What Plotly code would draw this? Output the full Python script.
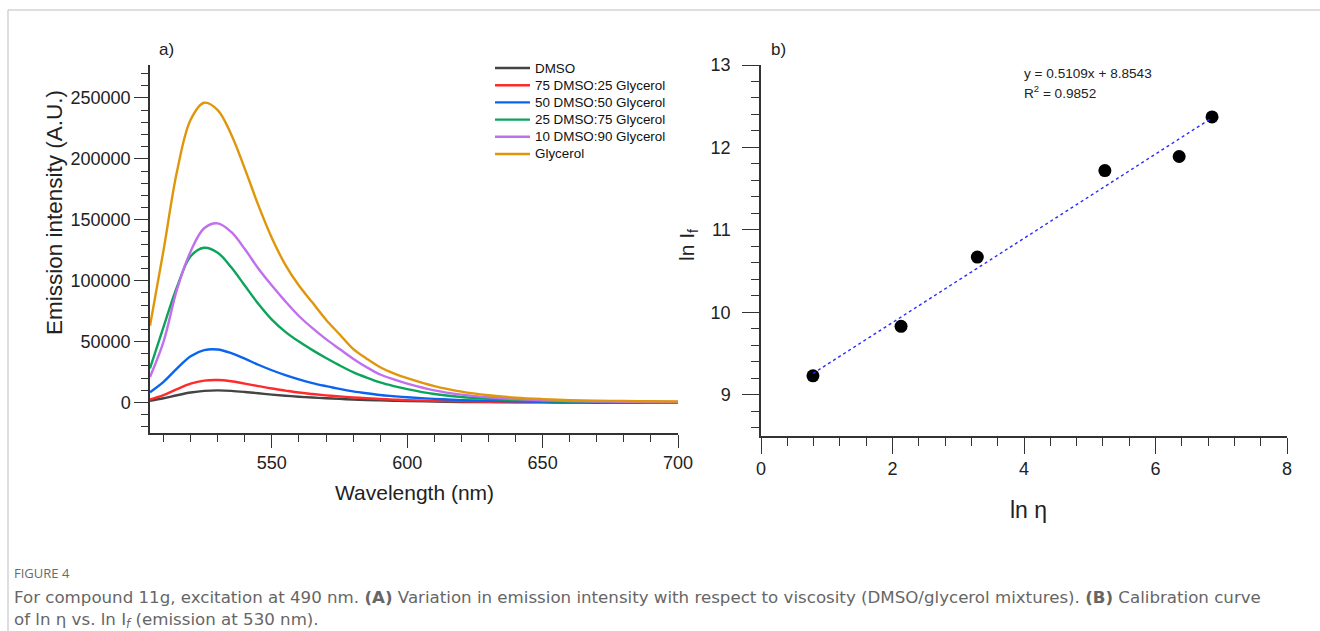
import plotly.graph_objects as go

W, H = 1320, 631

# ---------------- data: panel a ----------------
wavelength = [505, 510, 515, 520, 525, 530, 535, 540, 545, 550, 555, 560, 565, 570, 575,
              580, 585, 590, 595, 600, 610, 620, 630, 640, 650, 660, 670, 680, 690, 700]
dmso = [1500, 3500, 6000, 8200, 9600, 10000, 9600, 8700, 7600, 6500, 5600, 4800, 4100, 3500, 3000,
        2500, 2100, 1800, 1500, 1200, 800, 500, 300, 200, 100, 0, -200, -300, -300, -300]
dmso75 = [2500, 6000, 11000, 15500, 18000, 18500, 17500, 15500, 13500, 11500, 9800, 8200, 7000, 5900, 5000,
          4200, 3500, 2900, 2400, 2000, 1400, 1000, 700, 500, 300, 200, 100, 0, 0, -200]
dmso50 = [8500, 17000, 28000, 38000, 43000, 43500, 40500, 36000, 31000, 26500, 22500, 19000, 16000, 13500, 11200,
          9200, 7600, 6200, 5200, 4300, 3000, 2000, 1400, 1000, 700, 500, 300, 200, 100, 0]
dmso25 = [28000, 62000, 95000, 120000, 127000, 123000, 111000, 96000, 81000, 68000, 58000, 50000, 43000, 36500, 30500,
          25000, 20500, 16500, 13500, 11000, 7000, 4500, 3000, 2000, 1300, 900, 600, 400, 300, 200]
dmso10 = [21000, 50000, 93000, 124000, 143000, 147000, 140000, 126000, 110000, 96000, 83000, 71000, 61000, 52000, 44000,
          36000, 29000, 23000, 19000, 15500, 10000, 6500, 4300, 2800, 1900, 1300, 900, 700, 500, 400]
glycerol = [63000, 125000, 190000, 232000, 246000, 240000, 220000, 192000, 162000, 135000, 113000, 96000, 82000, 68000, 56000,
            44000, 36000, 29000, 24000, 20000, 13500, 9000, 6000, 4000, 2800, 2000, 1500, 1200, 1000, 900]

series_names = ["DMSO", "75 DMSO:25 Glycerol", "50 DMSO:50 Glycerol",
                "25 DMSO:75 Glycerol", "10 DMSO:90 Glycerol", "Glycerol"]
series_values = [dmso, dmso75, dmso50, dmso25, dmso10, glycerol]
series_colors = ["#444444", "#ff2b2b", "#0a64f0", "#0ca35a", "#c070ec", "#e0960a"]

# ---------------- data: panel b ----------------
ln_eta = [0.79, 2.13, 3.29, 5.23, 6.36, 6.86]
ln_if = [9.23, 9.83, 10.67, 11.72, 11.89, 12.37]
SLOPE = 0.5109
INTERCEPT = 8.8543

# ---------------- layout helpers (pixel -> paper) ----------------
def px(x):
    return x / W

def py(y):
    return 1 - y / H

FONT = "Arial, Liberation Sans, sans-serif"
AX_COLOR = "#333333"

fig = go.Figure()

for name, vals, col in zip(series_names, series_values, series_colors):
    fig.add_trace(go.Scatter(x=wavelength, y=vals, name=name, mode="lines",
                             line=dict(color=col, width=2.4, shape="spline", smoothing=1.0),
                             xaxis="x", yaxis="y", showlegend=False))

fig.add_trace(go.Scatter(x=ln_eta, y=ln_if, mode="markers", name="ln If",
                         marker=dict(color="black", size=13),
                         xaxis="x2", yaxis="y2", showlegend=False))

fit_x = [min(ln_eta), max(ln_eta)]
fit_y = [SLOPE * v + INTERCEPT for v in fit_x]
fig.add_trace(go.Scatter(x=fit_x, y=fit_y, mode="lines", name="fit",
                         line=dict(color="#2a2aff", width=1.4, dash="dot"),
                         xaxis="x2", yaxis="y2", showlegend=False))

common_axis = dict(showgrid=False, zeroline=False, showline=True, linecolor=AX_COLOR,
                   linewidth=1.5, ticks="outside", tickcolor=AX_COLOR, tickwidth=1.3,
                   tickfont=dict(family=FONT, size=18, color="#222222"))

fig.update_layout(
    autosize=True,
    margin=dict(l=0, r=0, t=0, b=0, autoexpand=False),
    paper_bgcolor="white", plot_bgcolor="white",
    font=dict(family=FONT, color="#222222"),
    xaxis=dict(domain=[px(150), px(678)], range=[505, 700], tickvals=[550, 600, 650, 700],
               ticklen=13, anchor="y",
               minor=dict(tick0=500, dtick=10, ticklen=7, ticks="outside", tickcolor=AX_COLOR, tickwidth=1.3),
               **common_axis),
    yaxis=dict(domain=[py(433), py(65)], range=[-25000, 277000], tick0=0, dtick=50000,
               ticklen=14, anchor="x", tickformat="d",
               minor=dict(tick0=0, dtick=10000, ticklen=7, ticks="outside", tickcolor=AX_COLOR, tickwidth=1.3),
               **common_axis),
    xaxis2=dict(domain=[px(761), px(1287)], range=[0, 8], tick0=0, dtick=2,
                ticklen=16, anchor="y2",
                minor=dict(tick0=0, dtick=0.4, ticklen=8, ticks="outside", tickcolor=AX_COLOR, tickwidth=1.3),
                **common_axis),
    yaxis2=dict(domain=[py(436), py(65)], range=[8.5, 13], tick0=9, dtick=1,
                ticklen=17, anchor="x2", ticklabelstandoff=8,
                minor=dict(tick0=9, dtick=0.2, ticklen=8, ticks="outside", tickcolor=AX_COLOR, tickwidth=1.3),
                **common_axis),
    showlegend=False,
)

annotations = [
    dict(x=px(166), y=py(50), text="a)", font=dict(size=17)),
    dict(x=px(778), y=py(50), text="b)", font=dict(size=17)),
    dict(x=px(55), y=py(213), text="Emission intensity (A.U.)", textangle=-90, font=dict(size=22.5)),
    dict(x=px(414), y=py(492), text="Wavelength (nm)", font=dict(size=21)),
    dict(x=px(1028), y=py(510), text="ln η", font=dict(size=23)),
    dict(x=px(688), y=py(245), text="ln I<sub>f</sub>", textangle=-90, font=dict(size=21)),
    dict(x=px(1022), y=py(73), text="y = 0.5109x + 8.8543", xanchor="left", font=dict(size=13.6)),
    dict(x=px(1022), y=py(92), text="R<sup>2</sup> = 0.9852", xanchor="left", font=dict(size=13.6)),
    dict(x=px(12), y=py(573), text="FIGURE 4", xanchor="left",
         font=dict(family="Open Sans, sans-serif", size=13, color="#6a6a6a")),
    dict(x=px(12), y=py(609.5), xanchor="left", align="left",
         text=("For compound 11g, excitation at 490 nm. <b>(A)</b> Variation in emission intensity with respect to "
               "viscosity (DMSO/glycerol mixtures). <b>(B)</b> Calibration curve<br>"
               "of ln η vs. ln I<sub><i>f</i></sub> (emission at 530 nm)."),
         font=dict(family="DejaVu Sans, sans-serif", size=16.65, color="#666666")),
]

# legend drawn as line samples + labels, one row per series
LEG_X0, LEG_X1, LEG_TX, LEG_Y0, LEG_DY = 495, 530, 533, 68, 17.2
shapes = []
for i, (name, col) in enumerate(zip(series_names, series_colors)):
    yy = LEG_Y0 + i * LEG_DY
    shapes.append(dict(type="line", xref="paper", yref="paper", x0=px(LEG_X0), x1=px(LEG_X1),
                       y0=py(yy), y1=py(yy), line=dict(color=col, width=2.4)))
    annotations.append(dict(x=px(LEG_TX), y=py(yy), text=name, xanchor="left",
                            font=dict(size=13.4, color="#111111")))

for a in annotations:
    a.setdefault("xref", "paper")
    a.setdefault("yref", "paper")
    a.setdefault("showarrow", False)
    a.setdefault("xanchor", "center")
    a.setdefault("yanchor", "middle")
    f = a.get("font", {})
    f.setdefault("family", FONT)
    f.setdefault("color", "#222222")
    a["font"] = f

# card frame
shapes.append(dict(type="line", xref="paper", yref="paper", x0=px(8), x1=1, y0=py(10), y1=py(10),
                   line=dict(color="#bdbdbd", width=1)))
shapes.append(dict(type="line", xref="paper", yref="paper", x0=px(8), x1=px(8), y0=py(10), y1=0,
                   line=dict(color="#bdbdbd", width=1)))
fig.update_layout(annotations=annotations, shapes=shapes)

post = ("document.documentElement.style.margin='0';document.body.style.margin='0';"
        "document.documentElement.style.overflow='hidden';document.body.style.overflow='hidden';"
        "var gd=document.getElementById('{plot_id}');gd.style.width='100vw';gd.style.height='100vh';"
        "Plotly.Plots.resize(gd);")
fig.write_html("out.html", default_width="100vw", default_height="100vh",
               config={"displayModeBar": False, "responsive": True}, post_script=post)
